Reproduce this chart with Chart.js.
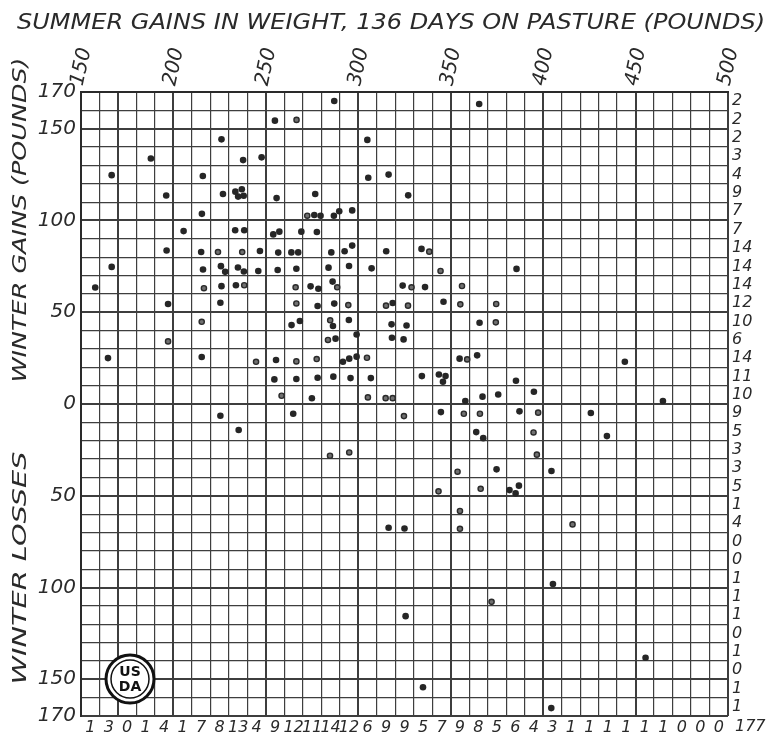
<!DOCTYPE html>
<html lang="en">
<head>
<meta charset="UTF-8">
<title>Summer gains vs winter gains</title>
<style>
  html, body { margin: 0; padding: 0; background: #fff; }
  #chart { width: 769px; height: 734px; }
</style>
</head>
<body>
<div id="chart"><canvas id="cv" width="769" height="734"></canvas></div>
<script src="https://cdn.jsdelivr.net/npm/chart.js@4.4.1/dist/chart.umd.min.js"></script>
<script>
// summer gain (x, pounds) and winter gain/loss (y, pounds)
// solid dots
const solidSummer = [
  287, 365.4,
  254.9,
  226, 304.9,
  187.8, 237.7, 247.7,
  166.6, 215.9, 305.4, 316.4,
  196.1, 226.8, 233.5, 237, 235, 238, 255.8, 276.7, 327,
  215.4, 276.2, 279.6, 286.8, 289.7, 296.7,
  205.5, 233.4, 238.3, 254, 257.3, 269.2, 277.6,
  196.3, 215, 246.8, 256.7, 263.8, 267.5, 285.4, 292.6, 296.7, 315.1, 334.2,
  166.6, 216, 225.7, 228, 234.9, 238.1, 245.9, 256.4, 266.5, 283.9, 295, 307.2, 385.6,
  157.7, 226, 233.8, 274.2, 278.4, 286.1, 324, 336.1,
  197.1, 225.4, 278, 287, 318.6, 346.1,
  263.9, 268.4, 286.3, 294.9, 318, 326.1, 365.6,
  287.7, 299.1, 318.2, 324.5,
  164.6, 215.3, 255.5, 291.7, 295.1, 299.1, 354.8, 364.3, 444.2,
  254.6, 266.5, 278, 286.5, 295.8, 306.8, 334.4, 343.6, 347.2, 345.8, 385.3,
  274.9, 357.9, 367.2, 375.7, 395, 464.8,
  225.4, 264.8, 344.7, 387.2, 425.8,
  235.3, 363.8, 367.6, 434.5,
  374.8, 404.5,
  381.8, 385.1, 386.9,
  316.4, 325,
  405.3, 325.6, 455.4, 335, 404.4
];
const solidWinter = [
  165.1, 163.5,
  154.4,
  144.2, 143.9,
  133.8, 132.9, 134.4,
  124.7, 124.2, 123.3, 125,
  113.6, 114.4, 115.7, 117, 113, 113.5, 112.2, 114.4, 113.7,
  103.6, 103, 102.6, 102.6, 105, 105.5,
  94.2, 94.7, 94.7, 92.4, 93.9, 93.9, 93.7,
  83.6, 82.8, 83.4, 82.5, 82.6, 82.6, 82.6, 83.2, 86.3, 83.2, 84.5,
  74.7, 73.3, 75.1, 72, 74.4, 72.2, 72.5, 73, 73.7, 74.3, 75.2, 73.9, 73.6,
  63.5, 64.2, 64.7, 64.1, 62.8, 66.7, 64.5, 63.7,
  54.5, 55.2, 53.4, 54.7, 55, 55.7,
  43, 45.2, 42.5, 45.8, 43.4, 42.8, 44.3,
  35.6, 37.9, 36.1, 35.2,
  25, 25.6, 24, 23, 24.7, 25.8, 24.7, 26.5, 23,
  13.4, 13.6, 14.3, 14.9, 14.1, 14.1, 15.2, 16.1, 15.2, 12.1, 12.7,
  3.1, 1.6, 4, 5.2, 6.7, 1.6,
  -6.4, -5.3, -4.4, -4, -4.9,
  -14.2, -15.3, -18.6, -17.5,
  -35.6, -36.5,
  -46.9, -48.7, -44.5,
  -67.4, -67.8,
  -98.1, -115.6, -138.3, -154.3, -165.7
];
// open (ringed) dots
const ringSummer = [
  266.6, 272.4, 224.1, 237.2, 338.4, 344.5,
  216.5, 238.3, 266.1, 288.6, 328.8, 356.1,
  266.5, 294.6, 315, 326.9, 355.2, 374.6,
  215.3, 284.8, 374.4,
  197.1, 283.6,
  244.7, 266.5, 277.5, 304.7, 358.9,
  258.5, 305.2, 314.8, 318.6,
  324.7, 357.1, 365.8, 397.3,
  394.8,
  284.7, 295.1, 396.6,
  353.7,
  343.4, 366.2,
  355,
  355, 415.9,
  372.1
];
const ringWinter = [
  154.8, 102.6, 82.8, 82.8, 83, 72.5,
  63.1, 64.7, 63.6, 63.6, 63.6, 64.3,
  54.8, 53.9, 53.6, 53.6, 54.3, 54.5,
  44.8, 45.6, 44.5,
  34.1, 34.9,
  23, 23.2, 24.5, 25.2, 24.3,
  4.5, 3.6, 3.2, 3.2,
  -6.6, -5.3, -5.3, -4.7,
  -15.5,
  -28.2, -26.4, -27.6,
  -36.9,
  -47.6, -46.2,
  -58.3,
  -68, -65.6,
  -107.8
];

// tallies written along the right edge (per 10-lb row, top to bottom) and along the bottom (per 10-lb column)
const rowCounts = [2, 2, 2, 3, 4, 9, 7, 7, 14, 14, 14, 12, 10, 6, 14, 11, 10, 9, 5, 3, 3, 5, 1, 4, 0, 0, 1, 1, 1, 0, 1, 0, 1, 1];
const colCounts = [1, 3, 0, 1, 4, 1, 7, 8, 13, 4, 9, 12, 11, 14, 12, 6, 9, 9, 5, 7, 9, 8, 5, 6, 4, 3, 1, 1, 1, 1, 1, 1, 0, 0, 0];
const totalCount = '177';

const xTickValues = [150, 200, 250, 300, 350, 400, 450, 500];
const xTickLabels = ['150', '200', '250', '300', '350', '400', '450', '500'];
const yTickValues = [170, 150, 100, 50, 0, -50, -100, -150, -170];
const yTickLabels = ['170', '150', '100', '50', '0', '50', '100', '150', '170'];

const titleText = 'SUMMER GAINS IN WEIGHT, 136 DAYS ON PASTURE (POUNDS)';
const gainsText = 'WINTER GAINS (POUNDS)';
const lossesText = 'WINTER LOSSES';

const ink = '#2a2a2a';
const gridInk = '#3e3e3e';
const hand = '"DejaVu Sans", sans-serif';

function gridWidth(ctx) {
    const v = ctx.tick ? Math.round(ctx.tick.value) : 1;
    return (v % 50 === 0 || Math.abs(v) === 170) ? 2 : 1.2;
}

function fitText(ctx, text, cx, cy, width, angle) {
    ctx.save();
    ctx.translate(cx, cy);
    ctx.rotate(angle);
    const w = ctx.measureText(text).width;
    ctx.scale(width / w, 1);
    ctx.textAlign = 'center';
    ctx.textBaseline = 'middle';
    ctx.fillText(text, 0, 0);
    ctx.restore();
}

const decor = {
    id: 'decor',
    beforeDraw(chart) {
        const c = chart.ctx;
        c.save();
        c.fillStyle = '#fff';
        c.fillRect(0, 0, chart.width, chart.height);
        c.restore();
    },
    afterDraw(chart) {
        const c = chart.ctx;
        c.save();
        c.fillStyle = ink;
        c.font = 'italic 22px ' + hand;
        fitText(c, titleText, 391, 23, 748, 0);
        c.font = 'italic 20px ' + hand;
        fitText(c, gainsText, 21, 220, 325, -Math.PI / 2);
        fitText(c, lossesText, 21, 568, 233, -Math.PI / 2);
        c.font = 'italic 16px ' + hand;
        c.textAlign = 'left';
        c.textBaseline = 'middle';
        c.fillText(totalCount, 735, 727);

        // USDA seal
        const cx = 130, cy = 679, r = 24;
        c.beginPath();
        c.arc(cx, cy, r, 0, Math.PI * 2);
        c.fillStyle = '#fff';
        c.fill();
        c.lineWidth = 3;
        c.strokeStyle = '#111';
        c.stroke();
        c.beginPath();
        c.arc(cx, cy, r - 5, 0, Math.PI * 2);
        c.lineWidth = 1.5;
        c.stroke();
        c.fillStyle = '#111';
        c.font = 'bold 14px ' + hand;
        c.textAlign = 'center';
        c.fillText('US', cx, cy - 7);
        c.fillText('DA', cx, cy + 8);
        c.restore();
    }
};

const solidPoints = solidSummer.map((x, i) => ({ x: x, y: solidWinter[i] }));
const ringPoints = ringSummer.map((x, i) => ({ x: x, y: ringWinter[i] }));

new Chart(document.getElementById('cv'), {
    type: 'scatter',
    data: {
        datasets: [
            {
                data: solidPoints,
                xAxisID: 'x',
                yAxisID: 'y',
                pointRadius: 3.3,
                pointBorderWidth: 0,
                backgroundColor: '#262626',
                borderColor: '#262626'
            },
            {
                data: ringPoints,
                xAxisID: 'x',
                yAxisID: 'y',
                pointRadius: 2.6,
                pointBorderWidth: 1.4,
                backgroundColor: '#707070',
                borderColor: '#2a2a2a'
            }
        ]
    },
    options: {
        responsive: false,
        animation: false,
        layout: { padding: 0 },
        plugins: {
            legend: { display: false },
            tooltip: { enabled: false }
        },
        scales: {
            x: {
                type: 'linear',
                position: 'top',
                min: 150,
                max: 500,
                ticks: {
                    stepSize: 10,
                    autoSkip: false,
                    minRotation: 78,
                    maxRotation: 78,
                    padding: 4,
                    labelOffset: 20,
                    color: ink,
                    font: { family: hand, size: 20, style: 'italic' },
                    callback: (v) => {
                        const i = xTickValues.indexOf(Math.round(v));
                        return i >= 0 ? xTickLabels[i] : '';
                    }
                },
                grid: { color: gridInk, lineWidth: gridWidth, drawTicks: false },
                border: { display: true, color: ink, width: 2 },
                afterFit: (s) => { s.height = 92; }
            },
            y: {
                type: 'linear',
                position: 'left',
                min: -170,
                max: 170,
                ticks: {
                    stepSize: 10,
                    autoSkip: false,
                    padding: 5,
                    color: ink,
                    font: { family: hand, size: 20, style: 'italic' },
                    callback: (v) => {
                        const i = yTickValues.indexOf(Math.round(v));
                        return i >= 0 ? yTickLabels[i] : '';
                    }
                },
                grid: { color: gridInk, lineWidth: gridWidth, drawTicks: false },
                border: { display: true, color: ink, width: 2 },
                afterFit: (s) => { s.width = 81; }
            },
            y2: {
                type: 'category',
                position: 'right',
                labels: rowCounts.map(String),
                offset: true,
                ticks: {
                    autoSkip: false,
                    padding: 4,
                    color: ink,
                    font: { family: hand, size: 16, style: 'italic' }
                },
                grid: { display: false, drawTicks: false },
                border: { display: false },
                afterFit: (s) => { s.width = 41; }
            },
            x2: {
                type: 'category',
                position: 'bottom',
                labels: colCounts.map(String),
                offset: true,
                ticks: {
                    autoSkip: false,
                    minRotation: 0,
                    maxRotation: 0,
                    padding: 2,
                    color: ink,
                    font: { family: hand, size: 16, style: 'italic' }
                },
                grid: { display: false, drawTicks: false },
                border: { display: false },
                afterFit: (s) => { s.height = 18; }
            }
        }
    },
    plugins: [decor]
});
</script>
</body>
</html>
